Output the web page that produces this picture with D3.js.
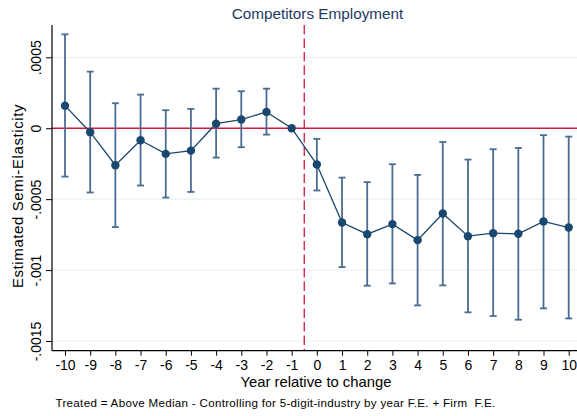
<!DOCTYPE html>
<html><head><meta charset="utf-8">
<script src="https://cdn.jsdelivr.net/npm/d3@7"></script>
<style>body{margin:0;background:#fff;} svg{display:block;font-family:Arial,"Liberation Sans",sans-serif;}</style>
</head><body>
<svg id="c" width="577" height="416"></svg>
<script>
const years = [-10,-9,-8,-7,-6,-5,-4,-3,-2,-1,0,1,2,3,4,5,6,7,8,9,10];
const estimates = [0.000159,-0.000028,-0.000261,-0.000085,-0.000181,-0.000158,0.000032,0.000061,0.000115,0,
  -0.000256,-0.000665,-0.000747,-0.000676,-0.000789,-0.000601,-0.000761,-0.00074,-0.000744,-0.000657,-0.0007];
const ciUpper = [0.000662,0.000399,0.000176,0.000237,0.000127,0.000136,0.000279,0.000261,0.000279,null,
  -0.000075,-0.000348,-0.00038,-0.000254,-0.000329,-0.000097,-0.000221,-0.000148,-0.000139,-0.000049,-0.000059];
const ciLower = [-0.000341,-0.000453,-0.000697,-0.000404,-0.000489,-0.000449,-0.000207,-0.000134,-0.000045,null,
  -0.000439,-0.000979,-0.00111,-0.001094,-0.001249,-0.001108,-0.001298,-0.001324,-0.00135,-0.00127,-0.001341];
const yTicks = [0.0005,0,-0.0005,-0.001,-0.0015];
const yTickLabels = [".0005","0","-.0005","-.001","-.0015"];
const titleText = "Competitors Employment";
const yTitle = "Estimated Semi-Elasticity";
const xTitle = "Year relative to change";
const note = "Treated = Above Median - Controlling for 5-digit-industry by year F.E. + Firm  F.E.";
const treatLine = -0.5;

(function(){
const svg = d3.select("#c");
const pL = 52, pR = 577, pT = 25, pB = 350.7;
const x = d3.scaleLinear().domain([-10,10]).range([65,568.7]);
const y = d3.scaleLinear().domain([0.0005,-0.0015]).range([57.3,341]);

const navy = "#1a476f", barCol = "#4a6c92", red = "#d5173e";
const ff = "Arial,'Liberation Sans',sans-serif";

svg.append("g").selectAll("line").data(yTicks.filter(d=>d!==0)).join("line")
  .attr("x1",pL).attr("x2",pR).attr("y1",d=>y(d)).attr("y2",d=>y(d))
  .attr("stroke","#e6eef0").attr("stroke-width",1);

svg.append("line").attr("x1",pL).attr("x2",pR).attr("y1",y(0)).attr("y2",y(0))
  .attr("stroke",red).attr("stroke-width",1.3);
svg.append("line").attr("x1",x(treatLine)).attr("x2",x(treatLine)).attr("y1",pT).attr("y2",pB)
  .attr("stroke",red).attr("stroke-width",1.3).attr("stroke-dasharray","9.5,4");

const yAxis = d3.axisLeft(y).tickValues(yTicks).tickFormat((d,i)=>yTickLabels[i]).tickSize(6).tickSizeOuter(0);
const ga = svg.append("g").attr("transform",`translate(${pL},0)`).call(yAxis);
ga.select(".domain").remove();
ga.append("line").attr("x1",0).attr("x2",0).attr("y1",pT).attr("y2",pB).attr("stroke","#000").attr("stroke-width",1.2);
ga.selectAll(".tick line").attr("stroke","#000");
ga.selectAll(".tick text").attr("transform","translate(-11.5,0) rotate(-90)")
  .attr("x",0).attr("y",0).attr("dy",0).attr("text-anchor","middle").attr("font-size",14).attr("fill","#000")
  .attr("font-family",ff);

const xAxis = d3.axisBottom(x).tickValues(years).tickFormat(d3.format("d")).tickSize(5).tickSizeOuter(0);
const gx = svg.append("g").attr("transform",`translate(0,${pB})`).call(xAxis);
gx.select(".domain").remove();
gx.append("line").attr("x1",pL).attr("x2",pR).attr("y1",0).attr("y2",0).attr("stroke","#000").attr("stroke-width",1.2);
gx.selectAll(".tick line").attr("stroke","#000");
gx.selectAll(".tick text").attr("y",9).attr("dy","0.71em").attr("font-size",14).attr("fill","#000")
  .attr("font-family",ff).text(d=>d<0?"-"+Math.abs(d):d);

const ci = years.map((d,i)=>({yr:d,lo:ciLower[i],hi:ciUpper[i]})).filter(d=>d.lo!==null);
const eb = svg.append("g").attr("stroke",barCol).attr("stroke-width",1.8);
eb.selectAll(".v").data(ci).join("line").attr("class","v").attr("x1",d=>x(d.yr)).attr("x2",d=>x(d.yr))
  .attr("y1",d=>y(d.hi)).attr("y2",d=>y(d.lo));
eb.selectAll(".t").data(ci).join("line").attr("class","t").attr("x1",d=>x(d.yr)-3.5).attr("x2",d=>x(d.yr)+3.5)
  .attr("y1",d=>y(d.hi)).attr("y2",d=>y(d.hi));
eb.selectAll(".b").data(ci).join("line").attr("class","b").attr("x1",d=>x(d.yr)-3.5).attr("x2",d=>x(d.yr)+3.5)
  .attr("y1",d=>y(d.lo)).attr("y2",d=>y(d.lo));

const pts = years.map((d,i)=>({yr:d,v:estimates[i]}));
svg.append("path").datum(pts).attr("fill","none").attr("stroke",navy).attr("stroke-width",1.3)
  .attr("d",d3.line().x(d=>x(d.yr)).y(d=>y(d.v)));
svg.append("g").selectAll("circle").data(pts).join("circle")
  .attr("cx",d=>x(d.yr)).attr("cy",d=>y(d.v)).attr("r",4.2).attr("fill",navy);

svg.append("text").attr("x",317.5).attr("y",19).attr("text-anchor","middle").attr("font-size",15.3)
  .attr("fill","#1e3a5f").text(titleText);
svg.append("text").attr("transform",`translate(22.5,196) rotate(-90)`).attr("text-anchor","middle")
  .attr("font-size",15).attr("letter-spacing",0.6).attr("fill","#000").text(yTitle);
svg.append("text").attr("x",316).attr("y",387).attr("text-anchor","middle")
  .attr("font-size",14.8).attr("fill","#000").text(xTitle);
svg.append("text").attr("x",55.5).attr("y",407).attr("font-size",11.6).attr("letter-spacing",0.3)
  .style("white-space","pre").attr("fill","#000").text(note);
})();
</script>
</body></html>
